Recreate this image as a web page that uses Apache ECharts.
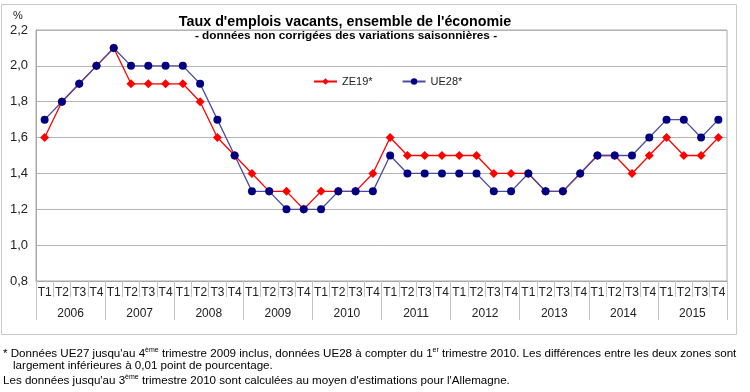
<!DOCTYPE html>
<html>
<head>
<meta charset="utf-8">
<script src="https://cdn.jsdelivr.net/npm/echarts@6/dist/echarts.min.js"></script>
<style>
html,body{margin:0;padding:0;background:#fff;}
#chart{width:750px;height:392px;}
</style>
</head>
<body>
<div id="chart"></div>
<script>
var years = ['2006','2007','2008','2009','2010','2011','2012','2013','2014','2015'];
var quarters = ['T1','T2','T3','T4'];
var ze19 = [1.6,1.8,1.9,2.0, 2.1,1.9,1.9,1.9, 1.9,1.8,1.6,1.5, 1.4,1.3,1.3,1.2, 1.3,1.3,1.3,1.4,
            1.6,1.5,1.5,1.5, 1.5,1.5,1.4,1.4, 1.4,1.3,1.3,1.4, 1.5,1.5,1.4,1.5, 1.6,1.5,1.5,1.6];
var ue28 = [1.7,1.8,1.9,2.0, 2.1,2.0,2.0,2.0, 2.0,1.9,1.7,1.5, 1.3,1.3,1.2,1.2, 1.2,1.3,1.3,1.3,
            1.5,1.4,1.4,1.4, 1.4,1.4,1.3,1.3, 1.4,1.3,1.3,1.4, 1.5,1.5,1.5,1.6, 1.7,1.7,1.6,1.7];
var yTicks = {min: 0.8, max: 2.2, interval: 0.2};

var qLabels = [];
years.forEach(function(){ quarters.forEach(function(q){ qLabels.push(q); }); });

var chart = echarts.init(document.getElementById('chart'), null, {renderer: 'canvas'});
var FONT = 'Liberation Sans, Arial, sans-serif';
var foot = {
  n: {fontSize: 11.6, fontFamily: FONT, color: '#222'},
  s: {fontSize: 7, fontFamily: FONT, color: '#222', padding: [0,0,6,0]}
};
chart.setOption({
  animation: false,
  backgroundColor: '#fff',
  grid: {left: 36, right: 23, top: 30, bottom: 111, show: true, borderColor: '#a8a8a8', borderWidth: 1, containLabel: false},
  legend: {
    left: 308, top: 71, itemGap: 29, itemWidth: 23, itemHeight: 8,
    textStyle: {fontSize: 11, fontFamily: FONT, color: '#222'},
    data: ['ZE19*', 'UE28*']
  },
  xAxis: [{
    type: 'category', data: qLabels, boundaryGap: true, position: 'bottom',
    axisLine: {show: true, lineStyle: {color: '#a8a8a8'}},
    axisTick: {show: true, interval: 0, length: 16, lineStyle: {color: '#c4c4c4'}},
    axisLabel: {interval: 0, margin: 6, fontSize: 12, fontFamily: FONT, color: '#222'},
    splitLine: {show: false}
  }, {
    type: 'category', data: years, boundaryGap: true, position: 'bottom',
    axisLine: {show: false},
    axisTick: {show: true, interval: 0, length: 39, lineStyle: {color: '#c4c4c4'}},
    axisLabel: {interval: 0, margin: 27, fontSize: 12, fontFamily: FONT, color: '#222'},
    splitLine: {show: false}
  }],
  yAxis: {
    type: 'value', min: yTicks.min, max: yTicks.max, interval: yTicks.interval,
    axisLine: {show: true, lineStyle: {color: '#a8a8a8'}},
    axisTick: {show: false},
    axisLabel: {margin: 8, fontSize: 13, fontFamily: FONT, color: '#222',
      formatter: function(v){ return v.toFixed(1).replace('.', ','); }},
    splitLine: {show: true, lineStyle: {color: '#b4b4b4', width: 1}}
  },
  series: [{
    name: 'ZE19*', type: 'line', data: ze19, xAxisIndex: 0,
    symbol: 'diamond', symbolSize: 9, showAllSymbol: true,
    lineStyle: {color: '#ff0000', width: 1.3},
    itemStyle: {color: '#ff0000'}, z: 2
  }, {
    name: 'UE28*', type: 'line', data: ue28, xAxisIndex: 0,
    symbol: 'circle', symbolSize: 8, showAllSymbol: true,
    lineStyle: {color: '#4b4ba0', width: 1.3},
    itemStyle: {color: '#000080'}, z: 3
  }],
  graphic: [
    {type: 'rect', shape: {x: 1.5, y: 4.5, width: 735, height: 330}, style: {fill: null, stroke: '#c8c8c8', lineWidth: 1}, z: -1, silent: true},
    {type: 'text', x: 13, y: 10, style: {text: '%', fontSize: 11, fontFamily: FONT, fill: '#222'}},
    {type: 'text', x: 345, y: 22, style: {text: "Taux d'emplois vacants, ensemble de l'économie", fontSize: 14.3, fontWeight: 'bold', fontFamily: FONT, fill: '#000', align: 'center', verticalAlign: 'middle'}},
    {type: 'text', x: 346, y: 36, style: {text: '- données non corrigées des variations saisonnières -', fontSize: 11.8, fontWeight: 'bold', fontFamily: FONT, fill: '#000', align: 'center', verticalAlign: 'middle'}},
    {type: 'text', x: 3, y: 347, style: {text: "{n|* Données UE27 jusqu'au 4}{s|ème}{n| trimestre 2009 inclus, données UE28 à compter du 1}{s|er}{n| trimestre 2010. Les différences entre les deux zones sont}", rich: foot}},
    {type: 'text', x: 13, y: 360, style: {text: '{n|largement inférieures à 0,01 point de pourcentage.}', rich: foot}},
    {type: 'text', x: 3, y: 374, style: {text: "{n|Les données jusqu'au 3}{s|ème}{n| trimestre 2010 sont calculées au moyen d'estimations pour l'Allemagne.}", rich: foot}}
  ]
});
</script>
</body>
</html>
